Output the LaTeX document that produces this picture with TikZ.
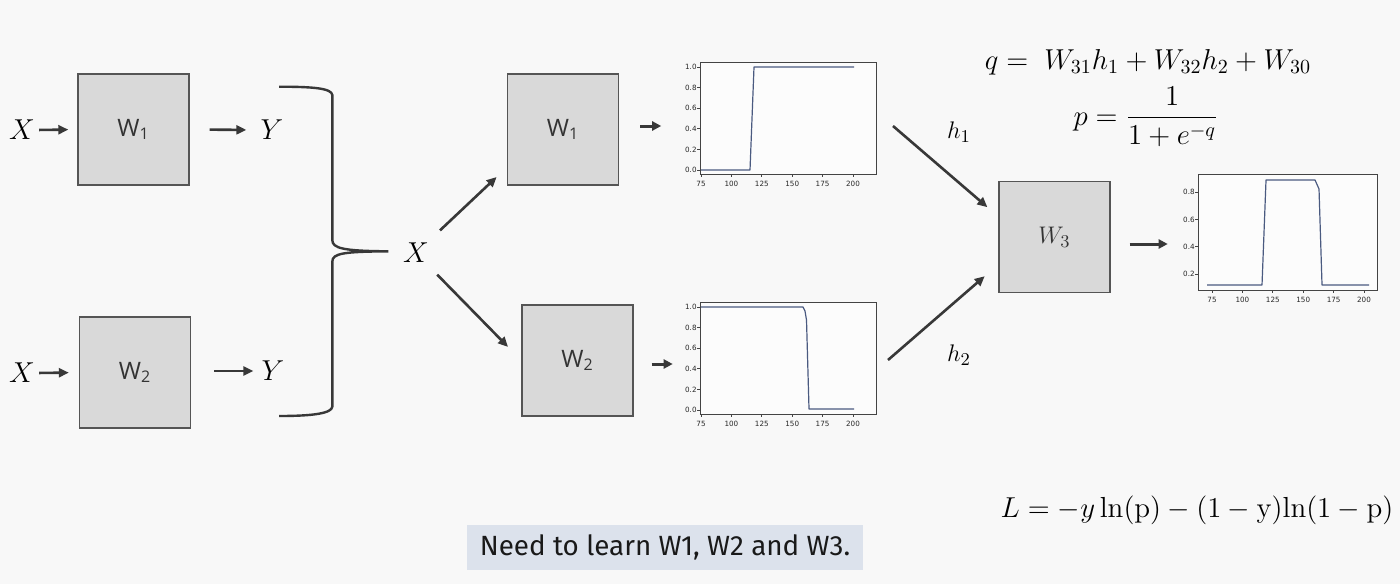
\documentclass[tikz,border=0pt]{standalone}
\usepackage{amsmath}
\usepackage{fontspec}
\newfontfamily\boxfont{Open Sans}
\newfontfamily\tickfont{DejaVu Sans}
\newfontfamily\capfont{Fira Sans}
\usetikzlibrary{arrows.meta}
\definecolor{bgcol}{HTML}{F8F8F8}
\definecolor{boxfill}{HTML}{D9D9D9}
\definecolor{boxline}{HTML}{555555}
\definecolor{arrowcol}{HTML}{383838}
\definecolor{datacol}{HTML}{4A5A80}
\definecolor{capfill}{HTML}{DCE2EC}
\definecolor{framecol}{HTML}{444444}
\newcommand\stdaxes{%
  \foreach \v [count=\i from 0] in {0.0,0.2,0.4,0.6,0.8,1.0} {
    \draw[tickln] (700,{170-20.6*\i}) -- ++(-3,0);
    \node[ticklbl,anchor=east] at (697,{170-20.6*\i}) {\v};
  }
  \foreach \v [count=\i from 0] in {75,100,125,150,175,200} {
    \draw[tickln] ({701+30.4*\i},174) -- ++(0,3);
    \node[ticklbl,anchor=north] at ({701+30.4*\i},180.5) {\v};
  }
}
\begin{document}
\begin{tikzpicture}[x=0.5pt,y=-0.5pt,
  wbox/.style={draw=boxline, fill=boxfill, line width=0.7pt, minimum width=55.5pt, minimum height=55.5pt, inner sep=0pt, font=\boxfont\fontsize{12}{14}\selectfont, text=black!80},
  lbl/.style={inner sep=0pt, font=\fontsize{14.5}{16}\selectfont},
  hlbl/.style={inner sep=0pt, font=\fontsize{13}{15}\selectfont},
  eq/.style={inner sep=0pt, font=\fontsize{14.5}{16}\selectfont},
  arr/.style={draw=arrowcol, line width=1.3pt, -{Triangle[length=5pt,width=4.5pt]}},
  sarr/.style={draw=arrowcol, line width=1.5pt, -{Triangle[length=4.5pt,width=4.5pt]}},
  frame/.style={draw=framecol, line width=0.4pt, fill=white!60!bgcol, inner sep=0pt},
  tickln/.style={draw=framecol, line width=0.4pt},
  ticklbl/.style={inner sep=0pt, font=\tickfont\fontsize{3.6}{4}\selectfont, text=black!85},
  dataln/.style={draw=datacol, line width=0.6pt, line join=round},
  capbox/.style={fill=capfill, minimum width=198pt, minimum height=22.5pt, inner sep=0pt, font=\capfont\fontsize{13.9}{15}\selectfont, text=black!90}
]
\fill[bgcol] (0,0) rectangle (1400,584);
\useasboundingbox (0,0) rectangle (1400,584);

% ---------- left part ----------
\node[lbl] (xa) at (22,130) {$X$};
\node[wbox] (w1a) at (133.5,129.5) {W\textsubscript{1}};
\node[lbl] (ya) at (272,130) {$Y$};
\node[lbl] (xb) at (22,373) {$X$};
\node[wbox] (w2a) at (135,372.5) {W\textsubscript{2}};
\node[lbl] (yb) at (273,371) {$Y$};

\draw[arr, shorten <=2pt, shorten >=4.5pt] (xa.east) -- (w1a.west);
\draw[arr, shorten <=10pt, shorten >=7pt] (w1a.east) -- (ya.west);
\draw[arr, shorten <=2pt, shorten >=5pt] (xb.east) -- (w2a.west);
\draw[arr, shorten <=11.5pt, shorten >=4pt] (w2a.east |- yb.west) -- (yb.west);

% brace
\draw[arrowcol, line width=1.2pt]
  (279,86.7) .. controls (313.3,86.7) and (331.7,88.3) .. (332.3,95)
  -- (332.3,240)
  .. controls (332.3,248.3) and (343.3,251) .. (388.3,251.3)
  .. controls (343.3,251.7) and (332.3,253.3) .. (332.3,261.7)
  -- (332.3,406.7)
  .. controls (331.7,413.3) and (313.3,416) .. (279,416);

% ---------- middle part ----------
\node[lbl] (mx) at (416,253) {$X$};
\node[wbox] (w1b) at (563,129.5) {W\textsubscript{1}};
\node[wbox] (w2b) at (577.5,360.5) {W\textsubscript{2}};
\draw[arr, shorten <=9pt, shorten >=7pt] (mx) -- (w1b.214);
\draw[arr, shorten <=8pt, shorten >=9.5pt] (mx) -- (w2b.west);

\draw[sarr] ([xshift=10.5pt,yshift=1.75pt]w1b.east) -- ++(21,0);
\draw[sarr] ([xshift=9pt,yshift=-1.75pt]w2b.east) -- ++(21,0);

% plot 1
\node[frame, minimum width=88pt, minimum height=56pt] (p1) at (788,118) {};
\stdaxes
\draw[dataln] (701,170) -- (750,170) -- (754,67) -- (854,67);

% plot 2
\begin{scope}[yshift=-120pt]
\node[frame, minimum width=88pt, minimum height=56pt] (p2) at (788,118) {};
\stdaxes
\draw[dataln] (701,67) -- (803,67) -- (805,71) -- (806.5,80) -- (809,169) -- (854,169);
\end{scope}

% ---------- right part ----------
\node[wbox, font=\fontsize{13}{15}\selectfont] (w3) at (1054.5,237) {$W_3$};
\node[hlbl] (h1) at (959,132) {$h_1$};
\node[hlbl] (h2) at (959,355) {$h_2$};
\coordinate (h1s) at (893,126);
\coordinate (h2s) at (888,360);
\draw[arr, shorten >=7.2pt] (h1s) -- (w3.160);
\draw[arr, shorten >=9pt] (h2s) -- (w3.206);
\draw[sarr] ([xshift=9.5pt,yshift=-3.5pt]w3.east) -- ++(38,0);

% plot 3
\node[frame, minimum width=89.5pt, minimum height=58pt] (p3) at (1287.5,232) {};
\foreach \v [count=\i from 0] in {0.2,0.4,0.6,0.8} {
  \draw[tickln] (1198,{274-27.3*\i}) -- ++(-3,0);
  \node[ticklbl,anchor=east] at (1195,{274-27.3*\i}) {\v};
}
\foreach \v [count=\i from 0] in {75,100,125,150,175,200} {
  \draw[tickln] ({1212+30.4*\i},290) -- ++(0,3);
  \node[ticklbl,anchor=north] at ({1212+30.4*\i},296.5) {\v};
}
\draw[dataln] (1207,285) -- (1262,285) -- (1266,180) -- (1315,180) -- (1319,189) -- (1322,285) -- (1369,285);

% equations
\node[eq] (qeq) at (1148,62) {$q =\; W_{31}h_1 + W_{32}h_2 + W_{30}$};
\node[eq] (peq) at (1146,117) {$p = \dfrac{1}{1+e^{-q}}$};
\node[eq] (leq) at (1197,510) {$L = -y\ln(\mathrm{p}) - (1-\mathrm{y})\mathrm{ln}(1-\mathrm{p})$};

% caption
\node[capbox] (cap) at (665,547.5) {Need to learn W1, W2 and W3.};
\end{tikzpicture}
\end{document}
